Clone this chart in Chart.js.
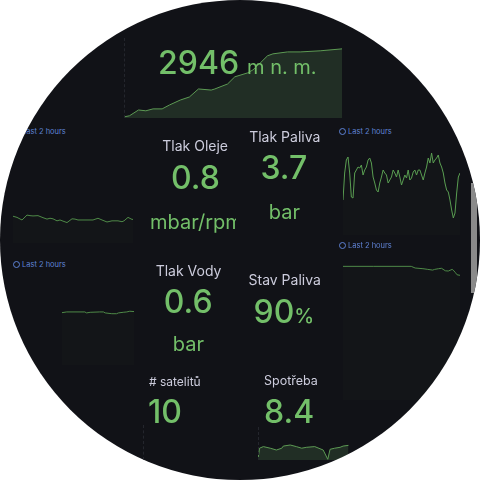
<!DOCTYPE html>
<html lang="cs">
<head>
<meta charset="UTF-8">
<title>Dashboard</title>
<script src="https://cdn.jsdelivr.net/npm/chart.js"></script>
<style>
    body { margin: 0; background: #ffffff; width: 480px; height: 480px; overflow: hidden; }
    #dial {
        position: absolute; left: 0; top: 0; width: 480px; height: 480px;
        border-radius: 50%; overflow: hidden; background: #111217;
        font-family: Inter, "Noto Sans", sans-serif;
    }
    #dial canvas, #dial .txt, #dial .range, #dial .guide { position: absolute; }
    .txt { white-space: nowrap; line-height: 1; }
    .range { font-size: 7.5px; color: #5f82d4; line-height: 1; white-space: nowrap; }
    .range i {
        display: inline-block; width: 5px; height: 5px; border: 1px solid #5f82d4;
        border-radius: 50%; margin-right: 2px; vertical-align: -1px;
    }
    .guide { width: 0; border-left: 1px dashed #24262d; }
    #clipOil { position: absolute; left: 140px; top: 200px; width: 96px; height: 40px; overflow: hidden; }
</style>
</head>
<body>
<div id="dial">
    <canvas id="altChart" width="218" height="73" style="left:124px;top:45px"></canvas>
    <canvas id="oilChart" width="120" height="38" style="left:13px;top:205px"></canvas>
    <canvas id="fuelPressChart" width="117" height="85" style="left:343px;top:150px"></canvas>
    <canvas id="waterChart" width="72" height="65" style="left:62px;top:300px"></canvas>
    <canvas id="fuelLevelChart" width="117" height="140" style="left:343px;top:260px"></canvas>
    <canvas id="consChart" width="92" height="20" style="left:258px;top:440px"></canvas>

    <div class="guide" style="left:124px;top:38px;height:80px"></div>
    <div class="guide" style="left:143px;top:425px;height:35px"></div>
    <div class="guide" style="left:258px;top:427px;height:33px"></div>
    <div style="position:absolute;left:471px;top:183px;width:6px;height:110px;background:#8a8a8a"></div>

    <div class="range" style="left:13px;top:128px"><i></i>Last 2 hours</div>
    <div class="range" style="left:339px;top:128px"><i></i>Last 2 hours</div>
    <div class="range" style="left:13px;top:261px"><i></i>Last 2 hours</div>
    <div class="range" style="left:339px;top:242px"><i></i>Last 2 hours</div>

    <div id="clipOil"></div>
</div>

<script>
    // altitude (m n. m.), last 2 hours
    const altTimes = [0, 3, 8, 12, 16, 21, 25, 31, 36, 41, 48, 50, 57, 61, 68, 71, 75, 79, 82, 90, 97, 108, 120];
    const altValues = [2700, 2704, 2725, 2722, 2729, 2729, 2743, 2761, 2772, 2801, 2797, 2801, 2819, 2845, 2859, 2870, 2895, 2921, 2928, 2935, 2935, 2939, 2946];

    // oil pressure
    const oilTimes = [0, 4, 9, 14, 17, 20, 25, 30, 34, 37, 40, 44, 47, 50, 54, 59, 62, 65, 74, 80, 85, 89, 94, 99, 105, 109, 111, 115, 119, 120];
    const oilValues = [0.93, 0.89, 0.80, 0.97, 0.95, 0.94, 0.95, 0.88, 0.83, 0.86, 0.84, 0.77, 0.80, 0.76, 0.71, 0.84, 0.83, 0.80, 0.80, 0.80, 0.86, 0.80, 0.73, 0.77, 0.77, 0.74, 0.77, 0.89, 0.82, 0.82];

    // fuel pressure (evenly sampled)
    const fuelPressValues = [3.35, 3.62, 3.75, 3.78, 3.62, 3.38, 3.37, 3.62, 3.65, 3.68, 3.67, 3.70, 3.60, 3.65, 3.68, 3.75, 3.77, 3.72,
        3.58, 3.52, 3.45, 3.43, 3.52, 3.58, 3.65, 3.62, 3.60, 3.52, 3.55, 3.58, 3.65, 3.62, 3.58, 3.65, 3.58, 3.50, 3.55, 3.60,
        3.57, 3.65, 3.55, 3.57, 3.63, 3.65, 3.60, 3.65, 3.65, 3.60, 3.55, 3.62, 3.68, 3.77, 3.72, 3.82, 3.72, 3.75, 3.77, 3.80,
        3.72, 3.68, 3.62, 3.52, 3.45, 3.43, 3.35, 3.25, 3.17, 3.22, 3.42, 3.58, 3.62];

    // water pressure
    const waterTimes = [0, 8, 38, 41, 47, 63, 69, 72, 83, 91, 94, 102, 108, 113, 120];
    const waterValues = [0.588, 0.596, 0.596, 0.585, 0.592, 0.596, 0.596, 0.585, 0.576, 0.576, 0.585, 0.592, 0.596, 0.604, 0.600];

    // fuel level %
    const fuelLevelTimes = [0, 31, 70, 74, 82, 87, 92, 94, 98, 101, 105, 108, 112, 113, 115, 117, 120];
    const fuelLevelValues = [96.8, 96.8, 96.8, 95.6, 95.1, 94.6, 94.1, 94.6, 95.1, 95.4, 93.6, 93.4, 94.6, 94.1, 92.5, 90.7, 90.3];

    // consumption
    const consTimes = [0, 2, 7, 16, 24, 31, 33, 42, 50, 57, 63, 74, 85, 91, 94, 100, 107, 111, 118];
    const consValues = [0.4, 6.6, 7.5, 6.6, 5.6, 6.6, 7.8, 8.4, 7.5, 6.6, 7.1, 7.5, 5.6, 0.4, 6.0, 6.6, 7.1, 7.8, 8.2];

    const GREEN = '#73bf69';
    const TITLE = '#ccccdc';

    function spark(id, labels, values, yMin, yMax, fillColor, lineColor, xType) {
        const ds = {
            data: xType === 'linear' ? labels.map((t, i) => ({ x: t, y: values[i] })) : values,
            borderColor: lineColor,
            borderWidth: 1,
            backgroundColor: fillColor,
            fill: 'start',
            pointRadius: 0,
            tension: 0
        };
        new Chart(document.getElementById(id), {
            type: 'line',
            data: { labels: xType === 'linear' ? undefined : labels, datasets: [ds] },
            options: {
                responsive: false,
                animation: false,
                layout: { padding: 0 },
                plugins: { legend: { display: false }, tooltip: { enabled: false } },
                scales: {
                    x: xType === 'linear'
                        ? { type: 'linear', display: false, min: 0, max: 120 }
                        : { display: false, offset: false },
                    y: { display: false, min: yMin, max: yMax }
                }
            }
        });
    }

    const strongFill = 'rgba(115,191,105,0.17)';
    const faintFill = 'rgba(115,191,105,0.025)';

    spark('altChart', altTimes, altValues, 2696, 2960, strongFill, '#5d9a54', 'linear');
    spark('oilChart', oilTimes, oilValues, 0, 1.32, faintFill, '#4f8a48', 'linear');
    spark('fuelPressChart', fuelPressValues.map((v, i) => i), fuelPressValues, 3.0, 3.85, faintFill, '#5a9e52', 'category');
    spark('waterChart', waterTimes, waterValues, 0, 0.73, faintFill, '#4f8a48', 'linear');
    spark('fuelLevelChart', fuelLevelTimes, fuelLevelValues, 0, 101.4, faintFill, '#4f8a48', 'linear');
    spark('consChart', consTimes, consValues, 0, 11.2, strongFill, '#5d9a54', 'linear');

    // place text so that its baseline sits at `base`
    function label(html, x, base, size, color, align, weight, parent) {
        const d = document.createElement('div');
        d.className = 'txt';
        d.innerHTML = html;
        d.style.fontSize = size + 'px';
        d.style.fontWeight = weight || 400;
        d.style.color = color;
        d.style.top = (base - 0.863 * size) + 'px';
        (parent || document.getElementById('dial')).appendChild(d);
        if (align === 'center') {
            d.style.left = (x - d.offsetWidth / 2) + 'px';
        } else {
            d.style.left = x + 'px';
        }
        return d;
    }

    label('2946', 158, 74.3, 32, GREEN, 'left', 500);
    label('m n. m.', 247, 74.3, 20, GREEN, 'left');

    label('Tlak Oleje', 195.3, 150.7, 14, TITLE, 'center');
    label('0.8', 195.5, 190, 32, GREEN, 'center', 500);
    const clip = document.getElementById('clipOil');
    label('mbar/rpm', 10, 229.3 - 200, 20, GREEN, 'left', 400, clip);

    label('Tlak Paliva', 284.7, 141.7, 14, TITLE, 'center');
    label('3.7', 284, 180, 32, GREEN, 'center', 500);
    label('bar', 284.3, 219.3, 20, GREEN, 'center');

    label('Tlak Vody', 188.7, 276, 14, TITLE, 'center');
    label('0.6', 188.3, 313.3, 32, GREEN, 'center', 500);
    label('bar', 188.3, 351.7, 20, GREEN, 'center');

    label('Stav Paliva', 284.5, 285, 14, TITLE, 'center');
    label('90<span style="font-size:20px">%</span>', 284, 323.3, 32, GREEN, 'center', 500);

    label('# satelitů', 149, 386, 12, TITLE, 'left');
    label('10', 148, 423.3, 32, GREEN, 'left', 500);
    label('Spotřeba', 264, 386, 12.5, TITLE, 'left');
    label('8.4', 264, 423.3, 32, GREEN, 'left', 500);
</script>
</body>
</html>
